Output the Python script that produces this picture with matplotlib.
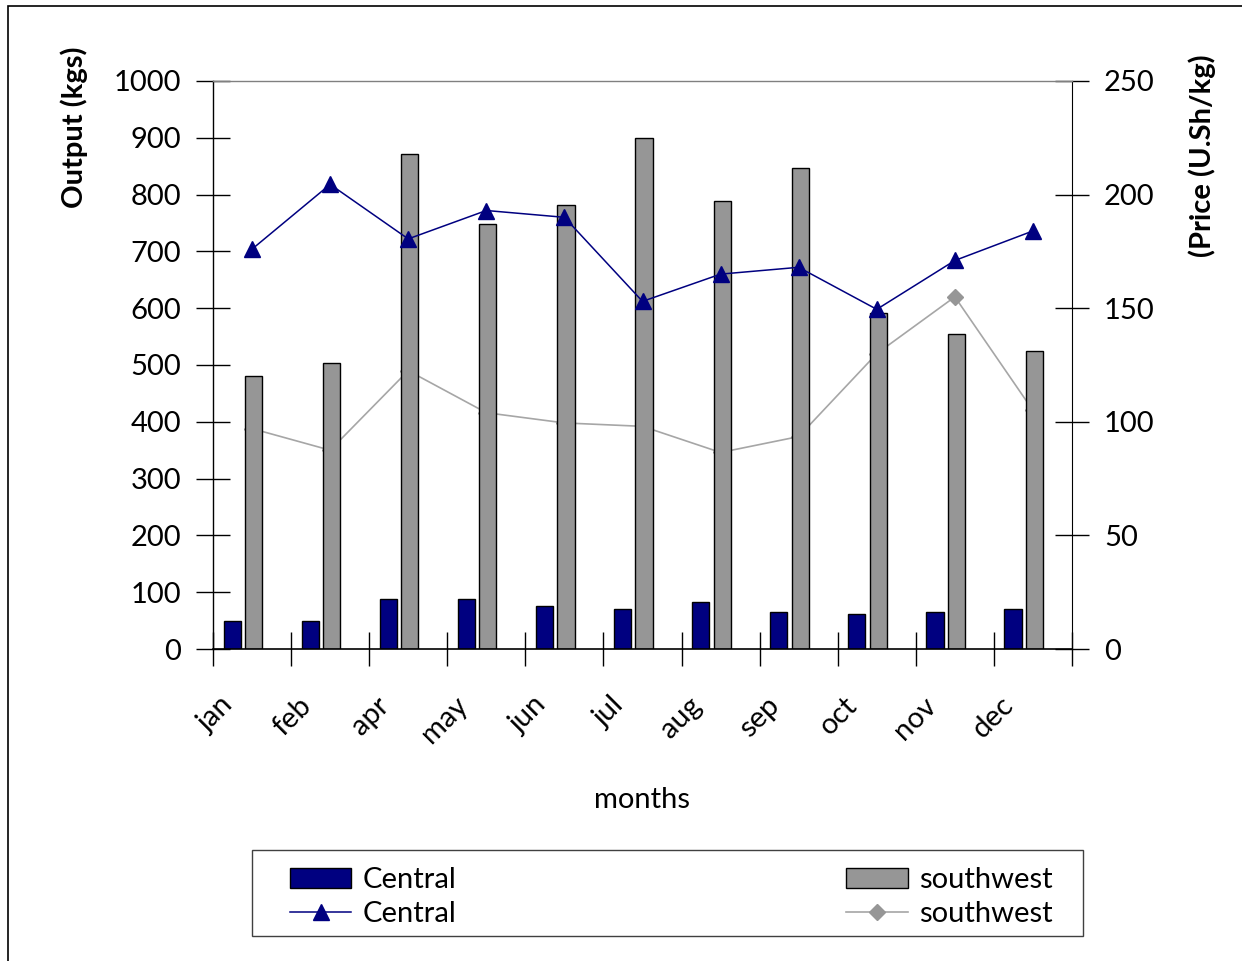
import numpy as np
import matplotlib
matplotlib.use("Agg")
import matplotlib.pyplot as plt
from matplotlib.patches import Rectangle, Patch
from matplotlib.lines import Line2D
from matplotlib.transforms import ScaledTranslation

plt.rcParams['font.family'] = ['Lato', 'DejaVu Sans']

# data
months = ["jan", "feb", "apr", "may", "jun", "jul", "aug", "sep", "oct", "nov", "dec"]
output_central = [50, 50, 88, 88, 75, 71, 83, 66, 62, 66, 71]
output_southwest = [480, 504, 872, 748, 781, 900, 789, 847, 591, 554, 525]
price_central = [176, 204.5, 180.5, 193, 190, 153, 165, 168, 149.5, 171, 184]
price_southwest = [97, 87.5, 122.5, 104, 99.5, 98, 86.5, 93.5, 130, 155, 105]

navy = "#000080"
grey_bar = "#969696"
grey_line = "#a6a6a6"
fs = 21

fig = plt.figure(figsize=(12.42, 9.61), dpi=100)
# outer chart border (right/bottom edges run off the image)
fig.patches.append(Rectangle((8 / 1242, -0.1), 1.2, 1 - 6 / 961 + 0.1,
                             transform=fig.transFigure, fill=False,
                             edgecolor="black", linewidth=1.2))

rect = [213 / 1242, 1 - 649 / 961, (1072 - 213) / 1242, (649 - 81) / 961]
ax_sw = fig.add_axes(rect)          # southwest price line, behind the bars
ax = fig.add_axes(rect)             # bars (left axis)
ax_c = fig.add_axes(rect)           # central price line, on top
ax_sw.set_zorder(0)
ax.set_zorder(1)
ax_c.set_zorder(2)
ax.patch.set_visible(False)
ax_c.patch.set_visible(False)

x = np.arange(len(months))
w = 0.22

ax_sw.plot(x, price_southwest, color=grey_line, lw=1.2, marker="D",
           ms=8, mfc=grey_bar, mec=grey_bar)
ax.bar(x - 0.255, output_central, w, color=navy, edgecolor="black", lw=1)
ax.bar(x + 0.02, output_southwest, w, color=grey_bar, edgecolor="black", lw=1)
ax_c.plot(x, price_central, color=navy, lw=1.1, marker="^", ms=11,
          mfc=navy, mec=navy)

for a in (ax, ax_sw, ax_c):
    a.set_xlim(-0.5, len(months) - 0.5)
ax.set_ylim(0, 1000)
ax_sw.set_ylim(0, 250)
ax_c.set_ylim(0, 250)

# left axis
ax.set_yticks(np.arange(0, 1001, 100))
ax.tick_params(axis="y", direction="inout", length=24, width=1,
               labelsize=fs, pad=11)
ax.set_ylabel("Output (kgs)", fontsize=fs, fontweight="bold")
ax.yaxis.set_label_coords(-0.1455, 0.919)

# x axis: boundary ticks, labels at category centres
ax.set_xticks(np.arange(-0.5, len(months)), minor=False)
ax.set_xticklabels([])
ax.tick_params(axis="x", direction="inout", length=24, width=1)
ax.set_xticks(x, minor=True)
ax.set_xticklabels(months, minor=True, rotation=45, ha="right", va="top",
                   fontsize=fs)
ax.tick_params(axis="x", which="minor", length=0, pad=31)
off = ScaledTranslation(-14 / 100, 0, fig.dpi_scale_trans)
for lab in ax.get_xticklabels(minor=True):
    lab.set_transform(lab.get_transform() + off)
ax.set_xlabel("months", fontsize=fs, labelpad=28)

for s in ("top", "right"):
    ax.spines[s].set_visible(False)
ax.spines["left"].set_linewidth(1)
ax.spines["bottom"].set_linewidth(1.2)

ax_sw.axis("off")
ax_sw.patch.set_visible(True)
ax_sw.patch.set_facecolor("white")

# right axis
ax_c.yaxis.tick_right()
ax_c.yaxis.set_label_position("right")
ax_c.set_yticks(np.arange(0, 251, 50))
ax_c.tick_params(axis="y", direction="inout", length=24, width=1,
                 labelsize=fs, pad=11)
ax_c.set_xticks([])
ax_c.set_ylabel("(Price (U.Sh/kg)", fontsize=fs, fontweight="bold",
                rotation=90)
ax_c.yaxis.set_label_coords(1.135, 0.868)
for s in ("left", "bottom"):
    ax_c.spines[s].set_visible(False)
ax_c.spines["top"].set_color("#808080")
ax_c.spines["top"].set_linewidth(1)

# legend with its own frame
lg_x0, lg_y0, lg_x1, lg_y1 = 252, 850, 1083, 936
fig.patches.append(Rectangle((lg_x0 / 1242, 1 - lg_y1 / 961),
                             (lg_x1 - lg_x0) / 1242, (lg_y1 - lg_y0) / 961,
                             transform=fig.transFigure, fill=False,
                             edgecolor="#404040", linewidth=1))
h_bar_c = Patch(facecolor=navy, edgecolor="black", lw=1)
h_line_c = Line2D([], [], color=navy, lw=1.1, marker="^", ms=11)
h_bar_sw = Patch(facecolor=grey_bar, edgecolor="black", lw=1)
h_line_sw = Line2D([], [], color=grey_line, lw=1.2, marker="D", ms=8,
                   mfc=grey_bar, mec=grey_bar)
leg = fig.legend([h_bar_c, h_line_c, h_bar_sw, h_line_sw],
                 ["Central", "Central", "southwest", "southwest"],
                 ncol=2, loc="center", mode="expand",
                 bbox_to_anchor=(290 / 1242, 1 - (lg_y1 + 4) / 961,
                                 (1053 - 290) / 1242,
                                 (lg_y1 - lg_y0) / 961),
                 frameon=False, fontsize=fs, handlelength=2.1,
                 handleheight=0.7, handletextpad=0.4, labelspacing=0.28,
                 borderpad=0.0, borderaxespad=0.0)

fig.savefig("out.png", dpi=100)
